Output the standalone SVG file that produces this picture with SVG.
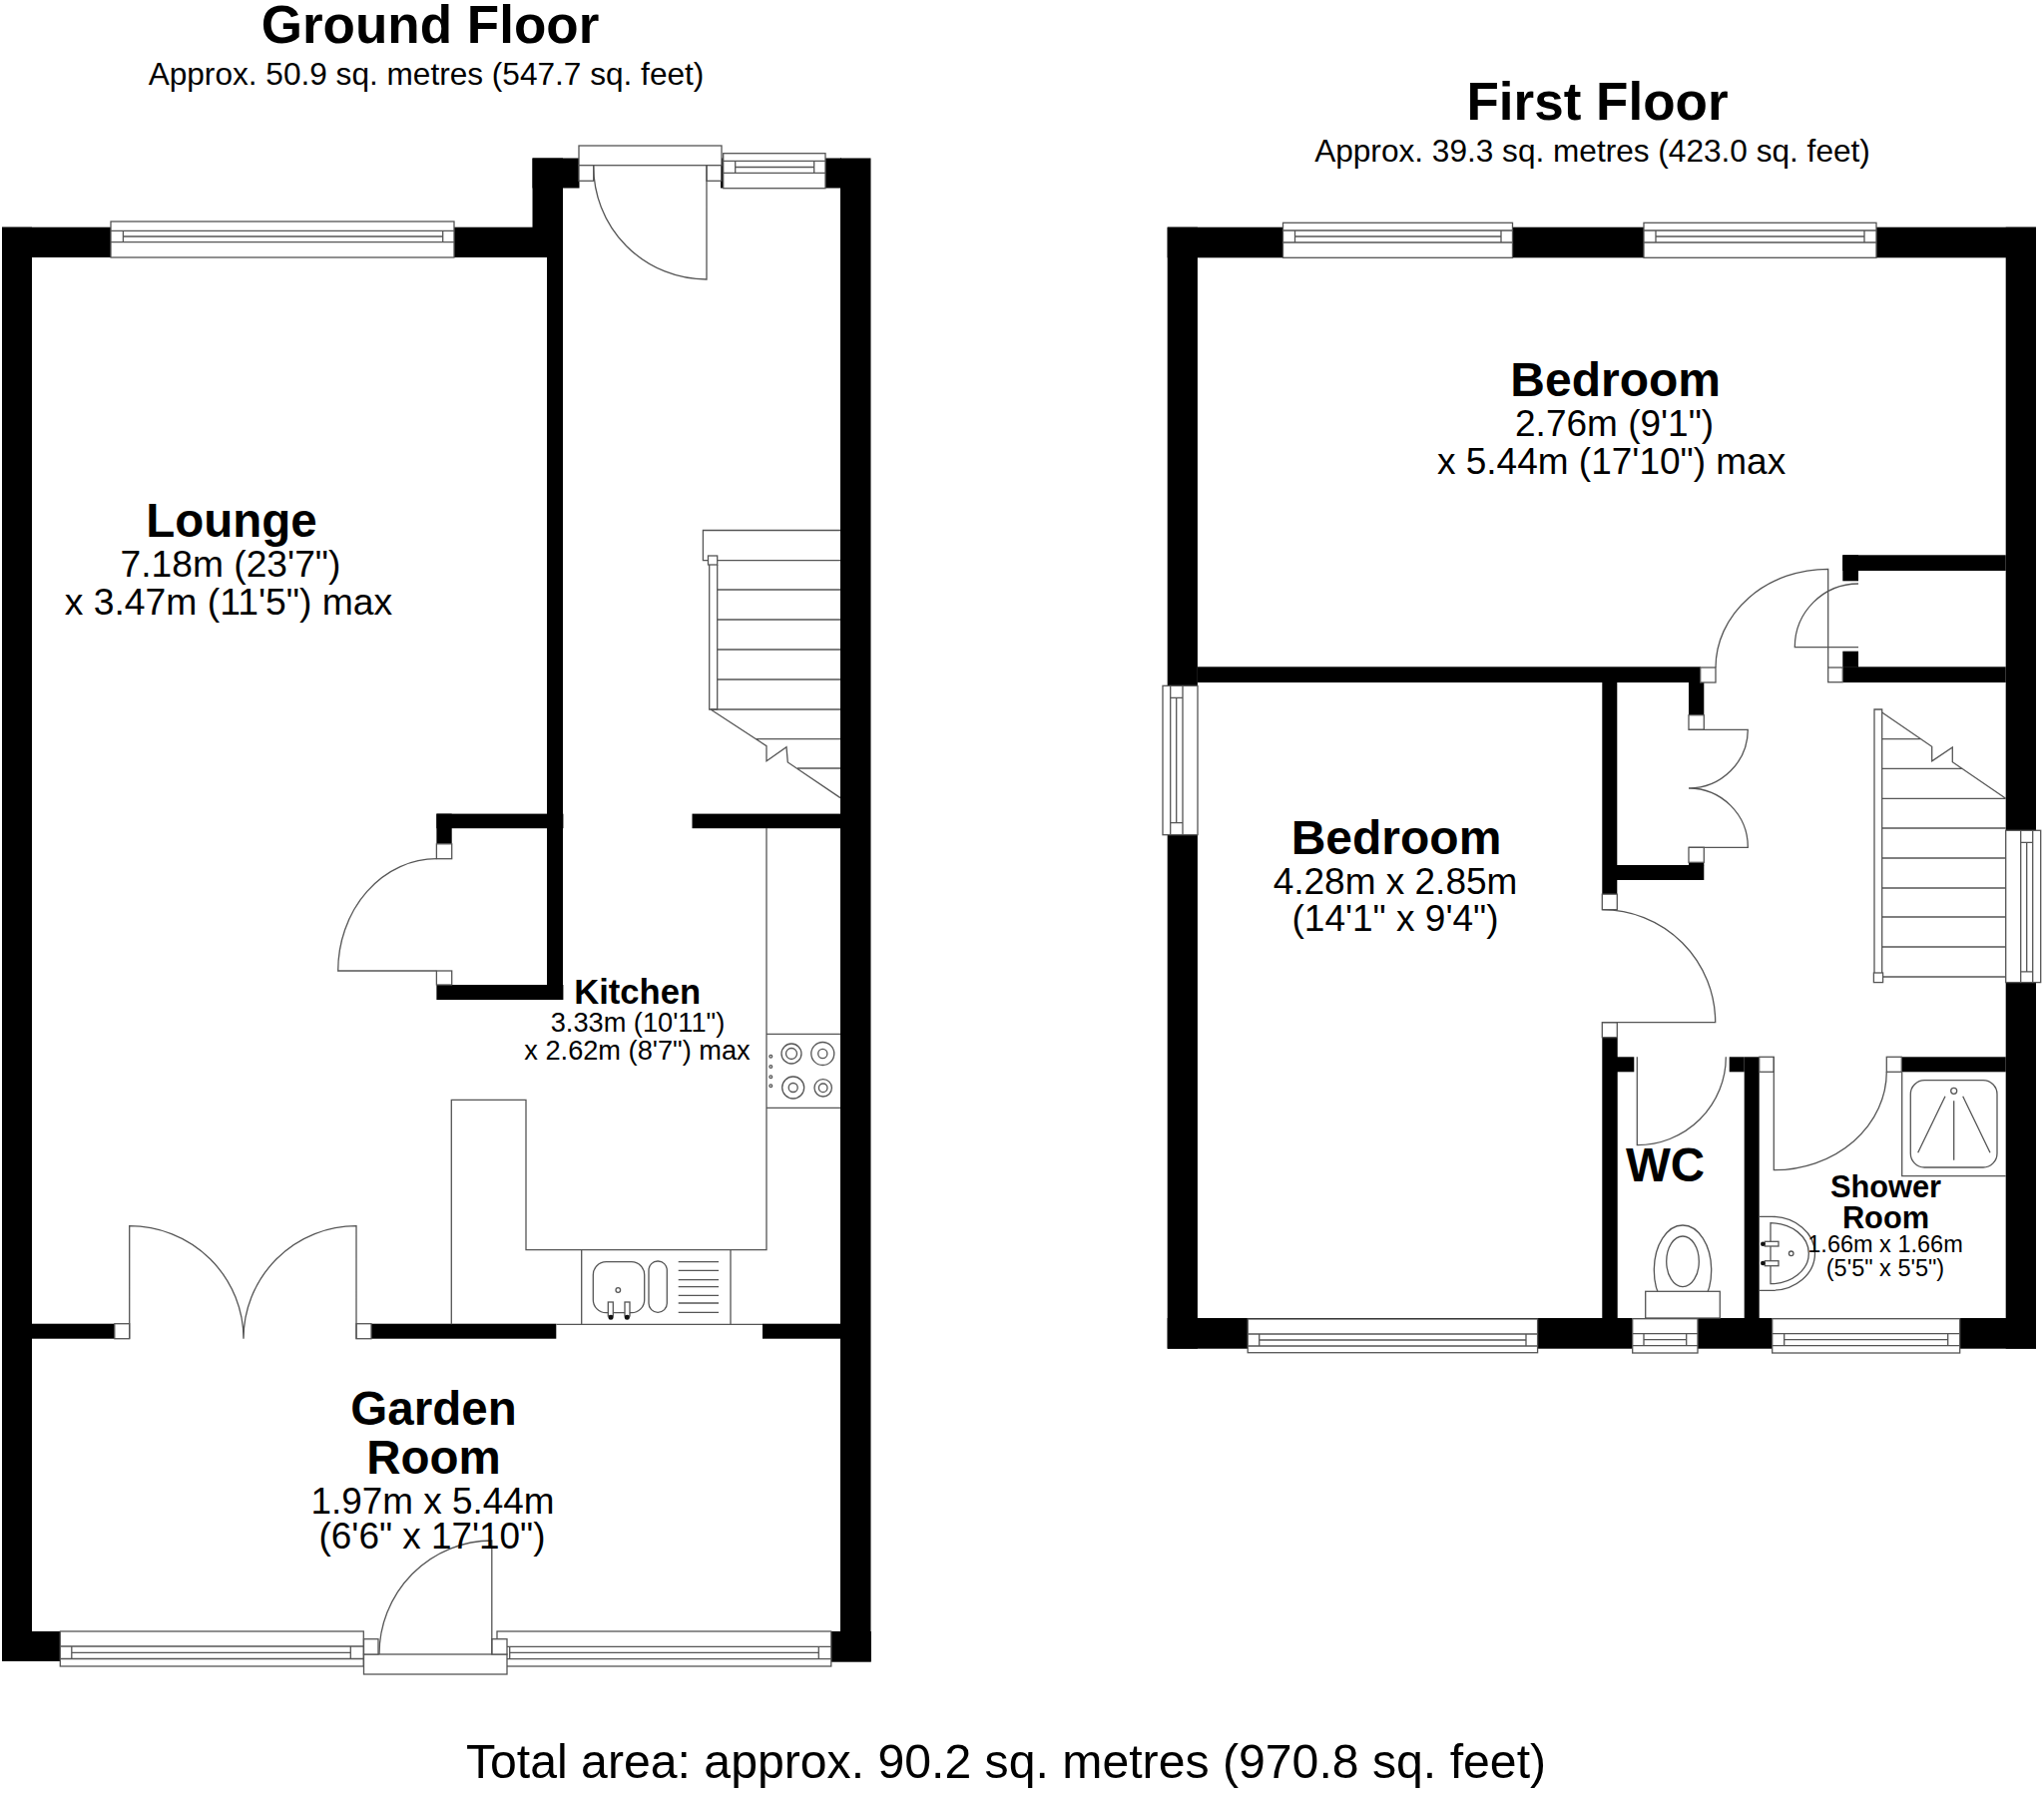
<svg xmlns="http://www.w3.org/2000/svg" width="2048" height="1797" viewBox="0 0 2048 1797">
<style>
text{font-family:"Liberation Sans",Arial,sans-serif;fill:#000;text-anchor:middle}
.b{font-weight:700}
.w{fill:#000;stroke:none}
.l,.l *{fill:none;stroke:#555;stroke-width:1.3}
.f,.f *{fill:#fff;stroke:#555;stroke-width:1.3}
.d{fill:#111;stroke:none}
</style>
<rect width="2048" height="1797" fill="#fff"/>
<g id="ground-floor">
<g id="gf-walls" class="w">
<rect x="2" y="227.7" width="30" height="1437.3"/>
<rect x="2" y="227.7" width="562" height="30.3"/>
<rect x="533.5" y="158.5" width="30.5" height="99.5"/>
<rect x="533.5" y="158.5" width="47" height="30"/>
<rect x="548" y="258" width="16" height="744"/>
<rect x="842" y="158.5" width="30.5" height="1506.5"/>
<rect x="827" y="158.5" width="16" height="30"/>
<rect x="722" y="158.5" width="3" height="30"/>
<rect x="693.5" y="815.6" width="149" height="14.6"/>
<rect x="437.4" y="815.6" width="127" height="14.6"/>
<rect x="437.4" y="815.6" width="15.3" height="30.2"/>
<rect x="437.4" y="987" width="127" height="15"/>
<rect x="32" y="1326.7" width="83" height="15"/>
<rect x="372" y="1326.7" width="185.3" height="15"/>
<rect x="764" y="1326.7" width="78" height="15"/>
<rect x="2" y="1635" width="58.3" height="30"/>
<rect x="832.8" y="1635" width="40" height="30.7"/>
</g>
<g id="gf-windows">
<g class="f"><rect x="111" y="222" width="344" height="36"/><rect x="724.7" y="153.7" width="102.3" height="35"/><rect x="60.3" y="1635" width="304" height="35"/><rect x="498" y="1635" width="334.8" height="35"/></g>
<path class="l" d="M111 231.4H455M111 242.7H455M123.4 231.4V242.7M443.7 231.4V242.7M123.4 237H443.7"/>
<path class="l" d="M724.7 161.3H827M724.7 173.3H827M736.7 161.3V173.3M815.7 161.3V173.3M736.7 167.5H815.7"/>
<path class="l" d="M60.3 1650H364M60.3 1662.5H364M71.8 1650V1662.5M351.3 1650V1662.5M71.8 1656.3H351.3"/>
<path class="l" d="M508 1650.3H832.8M508 1662.7H832.8M510.7 1650.3V1662.7M820.3 1650.3V1662.7M510.7 1656.4H820.3"/>
</g>
<g id="gf-doors">
<g class="f"><rect x="580" y="146" width="143" height="19.7"/><rect x="580" y="165.7" width="14.7" height="15.6"/><rect x="708" y="165.7" width="14.7" height="15.6"/></g>
<path class="l" d="M594.7 165.7A113.3 113.3 0 0 0 708 280V165.7"/>
<g class="f"><rect x="437.4" y="845.8" width="15.3" height="14.9"/><rect x="437.4" y="973" width="15.3" height="14"/></g>
<path class="l" d="M437.4 860.7A98.7 112.3 0 0 0 338.7 973H437.4"/>
<g class="f"><rect x="114.8" y="1326.7" width="14.9" height="15"/><rect x="357" y="1326.7" width="15" height="15"/></g>
<path class="l" d="M129.7 1341.7V1228.7A114.3 113 0 0 1 244 1341.7A113 113 0 0 1 357 1228.7V1341.7"/>
<g class="f"><rect x="364.5" y="1658" width="143.5" height="20"/><rect x="364.5" y="1642.7" width="14.5" height="15.3"/><rect x="492.8" y="1642.7" width="15.2" height="15.3"/></g>
<path class="l" d="M380 1658A113 114 0 0 1 492.8 1544V1658"/>
</g>
<g id="gf-stairs">
<path class="l" d="M842 531.5H704.4V561.7H842M718.7 591H842M718.7 621H842M718.7 651H842M718.7 681H842M712 711H842M757.8 740.6H842M799 770H842M712 711L768 747.7V762.7L788 748.6L789.3 764L842 799.6"/>
<path class="l" d="M710.7 566V711H718.7V566"/>
<rect class="f" x="709.5" y="557" width="9.2" height="9"/>
</g>
<g id="gf-kitchen">
<path class="l" d="M768 830V1252.7H527V1102.3H452.3V1327.3M582.7 1252.7V1327.3M732 1252.7V1327.3M557.3 1327.3H764M767.7 1036.3H842M767.7 1110.3H842"/>
<g class="l">
<circle cx="793" cy="1056" r="10"/><circle cx="793" cy="1056" r="5.5"/>
<circle cx="824.3" cy="1056" r="11.5"/><circle cx="824.3" cy="1056" r="4.6"/>
<circle cx="794.7" cy="1090" r="11"/><circle cx="794.7" cy="1090" r="4.5"/>
<circle cx="824.7" cy="1090.3" r="8.7"/><circle cx="824.7" cy="1090.3" r="4.3"/>
<circle cx="772.3" cy="1058.7" r="1.4"/><circle cx="772.3" cy="1069" r="1.4"/><circle cx="772.3" cy="1079.3" r="1.4"/><circle cx="772.3" cy="1088.3" r="1.4"/>
<rect x="594.3" y="1264.7" width="51.4" height="51" rx="13"/>
<rect x="650" y="1264" width="18.3" height="51.3" rx="9"/>
<circle cx="619.3" cy="1293" r="2.3"/>
<path d="M679.7 1264.7H720M679.7 1273.3H720M679.7 1282.7H720M679.7 1289.7H720M679.7 1298.3H720M679.7 1306H720M679.7 1315.3H720"/>
</g>
<g class="f"><rect x="609.3" y="1305" width="5" height="14"/><rect x="626" y="1305" width="5" height="14"/></g>
<circle class="d" cx="612" cy="1320.3" r="2.5"/><circle class="d" cx="628.3" cy="1320.3" r="2.5"/>
</g>
<text class="b" x="431" y="42.7" font-size="53">Ground Floor</text>
<text x="427" y="85" font-size="31.6">Approx. 50.9 sq. metres (547.7 sq. feet)</text>
<text class="b" x="232" y="537.6" font-size="47.5">Lounge</text>
<text x="231" y="577.8" font-size="37.2">7.18m (23'7")</text>
<text x="229" y="615.5" font-size="37.3">x 3.47m (11'5") max</text>
<text class="b" x="638.7" y="1006.4" font-size="34.6">Kitchen</text>
<text x="639" y="1034" font-size="27.2">3.33m (10'11")</text>
<text x="638.5" y="1062" font-size="27.2">x 2.62m (8'7") max</text>
<text class="b" x="434.5" y="1428" font-size="47.5">Garden</text>
<text class="b" x="434.5" y="1476.7" font-size="47.5">Room</text>
<text x="433.5" y="1516.5" font-size="36.9">1.97m x 5.44m</text>
<text x="433" y="1552" font-size="36.9">(6'6" x 17'10")</text>
</g>
<g id="first-floor">
<g id="ff-walls" class="w">
<rect x="1169.7" y="227.7" width="30.2" height="1124"/>
<rect x="1169.7" y="227.7" width="870.3" height="30.6"/>
<rect x="2009.7" y="227.7" width="30.3" height="1124"/>
<rect x="1169.7" y="1321" width="870.3" height="30.7"/>
<rect x="1199.9" y="668.3" width="504" height="15.7"/>
<rect x="1846.3" y="556.3" width="163.4" height="15.7"/>
<rect x="1846.3" y="556.3" width="15.7" height="26"/>
<rect x="1846.3" y="668.3" width="163.4" height="15.7"/>
<rect x="1846.3" y="652.7" width="15.7" height="16"/>
<rect x="1692" y="684" width="15.3" height="32.7"/>
<rect x="1605.3" y="684" width="15" height="212.2"/>
<rect x="1620" y="867" width="87.3" height="15"/>
<rect x="1692" y="864.3" width="15.3" height="3"/>
<rect x="1605.3" y="1039.7" width="15.4" height="290"/>
<rect x="1620" y="1059.3" width="17.3" height="15"/>
<rect x="1732.7" y="1059.3" width="15" height="15"/>
<rect x="1747.7" y="1059.3" width="15" height="270"/>
<rect x="1905.3" y="1059.3" width="104.4" height="15"/>
</g>
<g id="ff-windows">
<g class="f"><rect x="1285.5" y="223.3" width="230" height="35"/><rect x="1647" y="223.3" width="233" height="35"/><rect x="1165" y="687.3" width="35" height="149.4"/><rect x="2009.7" y="832.3" width="35" height="152.3"/><rect x="1250.2" y="1322" width="290.4" height="33.7"/><rect x="1635.7" y="1321.7" width="65.3" height="34.3"/><rect x="1775.7" y="1321.7" width="188" height="34.3"/></g>
<path class="l" d="M1285.5 231H1515.5M1285.5 243H1515.5M1297.5 231V243M1504 231V243M1297.5 237H1504"/>
<path class="l" d="M1647 231H1880M1647 243H1880M1659 231V243M1868 231V243M1659 237H1868"/>
<path class="l" d="M1172.7 687.3V836.7M1185 687.3V836.7M1172.7 699.3H1185M1172.7 824.7H1185M1178.7 699.3V824.7"/>
<path class="l" d="M2024.7 832.3V984.6M2036.7 832.3V984.6M2024.7 844.3H2036.7M2024.7 973.8H2036.7M2030.7 844.3V973.8"/>
<path class="l" d="M1250.2 1337H1540.6M1250.2 1349H1540.6M1261.7 1337V1349M1529 1337V1349M1261.7 1343H1529"/>
<path class="l" d="M1635.7 1336.7H1701M1635.7 1348.7H1701M1647 1336.7V1348.7M1689.7 1336.7V1348.7M1647 1342.7H1689.7"/>
<path class="l" d="M1775.7 1336.7H1963.7M1775.7 1348.7H1963.7M1787.7 1336.7V1348.7M1951.7 1336.7V1348.7M1787.7 1342.7H1951.7"/>
</g>
<g id="ff-doors">
<g class="f"><rect x="1703.7" y="669" width="15.3" height="15"/><rect x="1831.7" y="669" width="14.6" height="14.7"/><rect x="1692" y="716.7" width="15.3" height="14.6"/><rect x="1692" y="849.3" width="15.3" height="15"/><rect x="1605.3" y="896.2" width="15" height="15.5"/><rect x="1605.3" y="1024.7" width="15" height="15"/><rect x="1762.7" y="1059.3" width="14.6" height="15"/><rect x="1890.3" y="1059.3" width="15" height="15"/></g>
<path class="l" d="M1719 669A112.7 99 0 0 1 1831.7 570.3V669"/>
<path class="l" d="M1862 585A63.7 63.7 0 0 0 1798.3 648.7H1862"/>
<path class="l" d="M1692 731.3H1751.3A59.3 59 0 0 1 1692 790A59.3 59 0 0 1 1751.3 849.3H1692"/>
<path class="l" d="M1605.3 911.7A113.4 113 0 0 1 1718.7 1024.7H1605.3"/>
<path class="l" d="M1640.3 1059.3V1147.7A89 88.4 0 0 0 1729.3 1059.3"/>
<path class="l" d="M1777.3 1059.3V1172.7A113 98.5 0 0 0 1890.3 1074.3"/>
</g>
<g id="ff-stairs">
<path class="l" d="M1885.7 740.7H1925M1885.7 770.3H1966.7M1885.7 800.3H2009.7M1885.7 830H2009.7M1885.7 860H2009.7M1885.7 890H2009.7M1885.7 919H2009.7M1885.7 949H2009.7M1885.7 979H2009.7M1885.7 714L1935.7 748.3V762.9L1956.3 749V763.7L2009.7 800.3"/>
<path class="l" d="M1878 984.6V711H1885.7V984.6"/>
<rect class="f" x="1877.4" y="975" width="9.2" height="9.6"/>
</g>
<g id="ff-fixtures">
<g class="l">
<path d="M1905.7 1074.3V1178.7H2009.7"/>
<rect x="1914.3" y="1082.7" width="86.7" height="87.3" rx="14"/>
<circle cx="1957.7" cy="1093.3" r="3"/>
<path d="M1957.7 1103.3V1162.7M1949 1098.7L1921.7 1155.3M1966.7 1098.7L1994 1155.3"/>
<ellipse cx="1686" cy="1273" rx="28.7" ry="45"/>
<ellipse cx="1686" cy="1264.3" rx="16.3" ry="25.3"/>
<path d="M1762.7 1219.3H1775A43.5 37 0 0 1 1775 1293.3H1762.7"/>
<path d="M1774 1225.7V1286.7A38.3 30.5 0 0 0 1774 1225.7Z"/>
<circle cx="1794.7" cy="1256.3" r="2.3"/>
</g>
<rect class="f" x="1648.7" y="1294.3" width="74.6" height="26.7"/>
<g class="f"><rect x="1768.3" y="1244.3" width="13.7" height="4.7"/><rect x="1768.3" y="1263.7" width="13.7" height="5"/></g>
<circle class="d" cx="1766.3" cy="1246.7" r="2.3"/><circle class="d" cx="1766.3" cy="1266" r="2.3"/>
</g>
<text class="b" x="1600.5" y="119.5" font-size="53">First Floor</text>
<text x="1595.5" y="161.7" font-size="31.6">Approx. 39.3 sq. metres (423.0 sq. feet)</text>
<text class="b" x="1618.7" y="396.7" font-size="48">Bedroom</text>
<text x="1617.6" y="436.5" font-size="37">2.76m (9'1")</text>
<text x="1614.6" y="475" font-size="37">x 5.44m (17'10") max</text>
<text class="b" x="1399" y="856" font-size="48">Bedroom</text>
<text x="1398" y="896" font-size="37">4.28m x 2.85m</text>
<text x="1398" y="933" font-size="37">(14'1" x 9'4")</text>
<text class="b" x="1668.5" y="1184" font-size="47.5">WC</text>
<text class="b" x="1889.5" y="1200" font-size="30.8">Shower</text>
<text class="b" x="1889.5" y="1230.7" font-size="30.8">Room</text>
<text x="1889" y="1255" font-size="23.5">1.66m x 1.66m</text>
<text x="1889" y="1279" font-size="23.5">(5'5" x 5'5")</text>
</g>
<text id="total-area" x="1008" y="1782" font-size="48.2">Total area: approx. 90.2 sq. metres (970.8 sq. feet)</text>
</svg>
